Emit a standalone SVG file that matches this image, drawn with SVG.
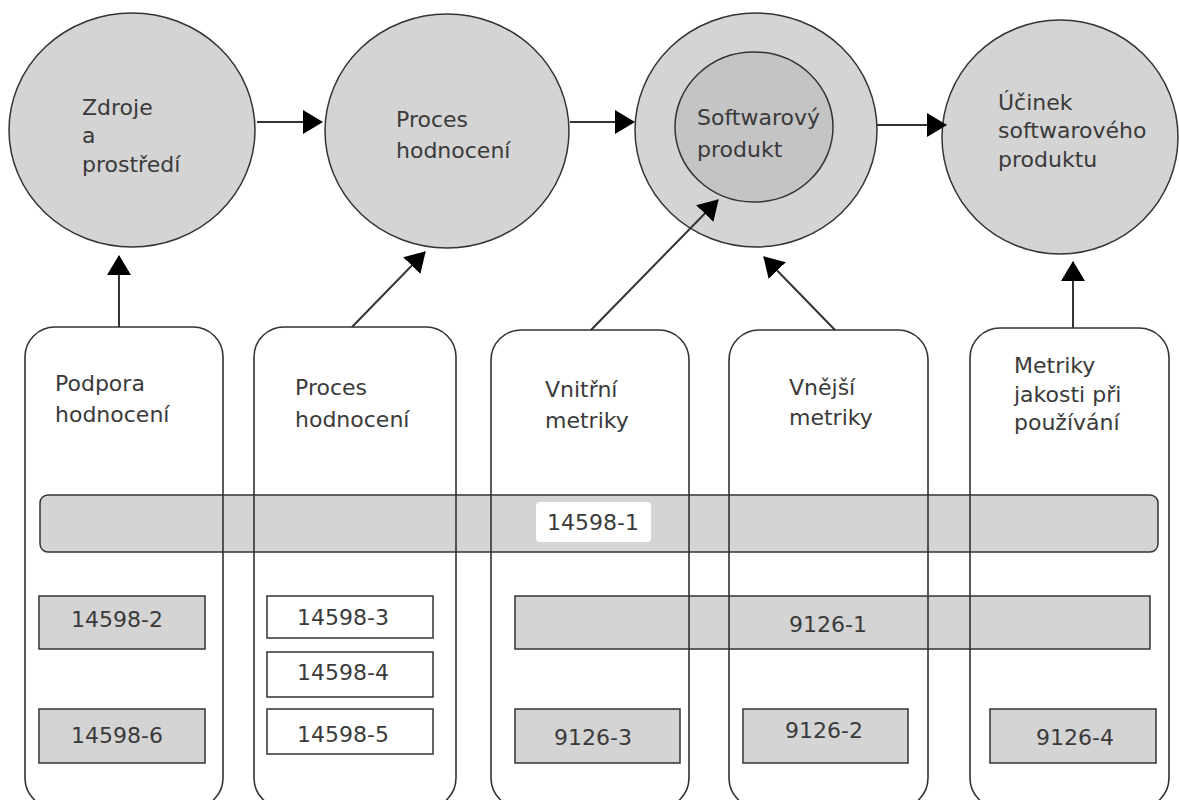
<svg xmlns="http://www.w3.org/2000/svg" width="1179" height="800" viewBox="0 0 1179 800">
<style>
text{font-family:"DejaVu Sans","Liberation Sans",sans-serif;font-size:22px;fill:#3a3a3a}
.circ{fill:#d4d4d4;stroke:#333;stroke-width:1.5}
.inner{fill:#c4c4c4;stroke:#333;stroke-width:1.5}
.col{fill:none;stroke:#333;stroke-width:1.6}
.gbox{fill:#d4d4d4;stroke:#333;stroke-width:1.5}
.wbox{fill:#fff;stroke:#333;stroke-width:1.5}
.c{text-anchor:middle}
.conn line{stroke:#333;stroke-width:2;marker-end:url(#ah)}
</style>
<defs>
<marker id="ah" viewBox="0 0 20 24" refX="19" refY="12" markerWidth="20" markerHeight="24" markerUnits="userSpaceOnUse" orient="auto">
<path d="M0,0 L20,12 L0,24 z" fill="#000"/>
</marker>
</defs>
<rect width="1179" height="800" fill="#fff"/>

<g id="bar-14598-1">
<rect x="40" y="495" width="1118" height="57" rx="8" class="gbox"/>
<rect x="536" y="502" width="115" height="40" rx="4" fill="#fff"/>
<text x="593" y="530" class="c">14598-1</text>
</g>
<g id="bar-9126-1">
<rect x="515" y="596" width="635" height="53" class="gbox"/>
<text x="828" y="632" class="c">9126-1</text>
</g>

<g id="col1">
<rect x="25" y="327" width="198" height="481" rx="30" class="col"/>
<text x="55" y="391">Podpora</text>
<text x="55" y="422">hodnocení</text>
<rect x="39" y="596" width="166" height="53" class="gbox"/>
<text x="117" y="627" class="c">14598-2</text>
<rect x="39" y="709" width="166" height="54" class="gbox"/>
<text x="117" y="743" class="c">14598-6</text>
</g>
<g id="col2">
<rect x="254" y="327" width="202" height="481" rx="30" class="col"/>
<text x="295" y="395">Proces</text>
<text x="295" y="427">hodnocení</text>
<rect x="267" y="596" width="166" height="42" class="wbox"/>
<text x="343" y="625" class="c">14598-3</text>
<rect x="267" y="652" width="166" height="45" class="wbox"/>
<text x="343" y="680" class="c">14598-4</text>
<rect x="267" y="709" width="166" height="45" class="wbox"/>
<text x="343" y="742" class="c">14598-5</text>
</g>
<g id="col3">
<rect x="491" y="330" width="198" height="478" rx="30" class="col"/>
<text x="545" y="397">Vnitřní</text>
<text x="545" y="428">metriky</text>
<rect x="515" y="709" width="165" height="54" class="gbox"/>
<text x="593" y="745" class="c">9126-3</text>
</g>
<g id="col4">
<rect x="729" y="330" width="199" height="478" rx="30" class="col"/>
<text x="789" y="395">Vnější</text>
<text x="789" y="425">metriky</text>
<rect x="743" y="709" width="165" height="54" class="gbox"/>
<text x="824" y="738" class="c">9126-2</text>
</g>
<g id="col5">
<rect x="970" y="328" width="199" height="480" rx="30" class="col"/>
<text x="1014" y="373">Metriky</text>
<text x="1014" y="402">jakosti při</text>
<text x="1014" y="430">používání</text>
<rect x="990" y="709" width="166" height="54" class="gbox"/>
<text x="1075" y="745" class="c">9126-4</text>
</g>

<g id="zdroje">
<ellipse cx="132" cy="130" rx="123" ry="117" class="circ"/>
<text x="82" y="115">Zdroje</text>
<text x="82" y="143">a</text>
<text x="82" y="172">prostředí</text>
</g>
<g id="proces">
<ellipse cx="447" cy="131" rx="122" ry="117" class="circ"/>
<text x="396" y="127">Proces</text>
<text x="396" y="158">hodnocení</text>
</g>
<g id="produkt">
<ellipse cx="756" cy="130" rx="121" ry="117" class="circ"/>
<ellipse cx="754" cy="127" rx="79" ry="75" class="inner"/>
<text x="697" y="125">Softwarový</text>
<text x="697" y="157">produkt</text>
</g>
<g id="ucinek">
<ellipse cx="1060" cy="137" rx="118" ry="117" class="circ"/>
<text x="998" y="110">Účinek</text>
<text x="998" y="138">softwarového</text>
<text x="998" y="167">produktu</text>
</g>

<g id="connectors" class="conn">
<line x1="257" y1="122" x2="322" y2="122"/>
<line x1="570" y1="122" x2="634" y2="122"/>
<line x1="877" y1="125" x2="946" y2="125"/>
<line x1="119" y1="327" x2="119" y2="256"/>
<line x1="352" y1="327" x2="425" y2="252"/>
<line x1="591" y1="330" x2="718" y2="200"/>
<line x1="835" y1="330" x2="764" y2="257"/>
<line x1="1073" y1="328" x2="1073" y2="262"/>
</g>
</svg>
